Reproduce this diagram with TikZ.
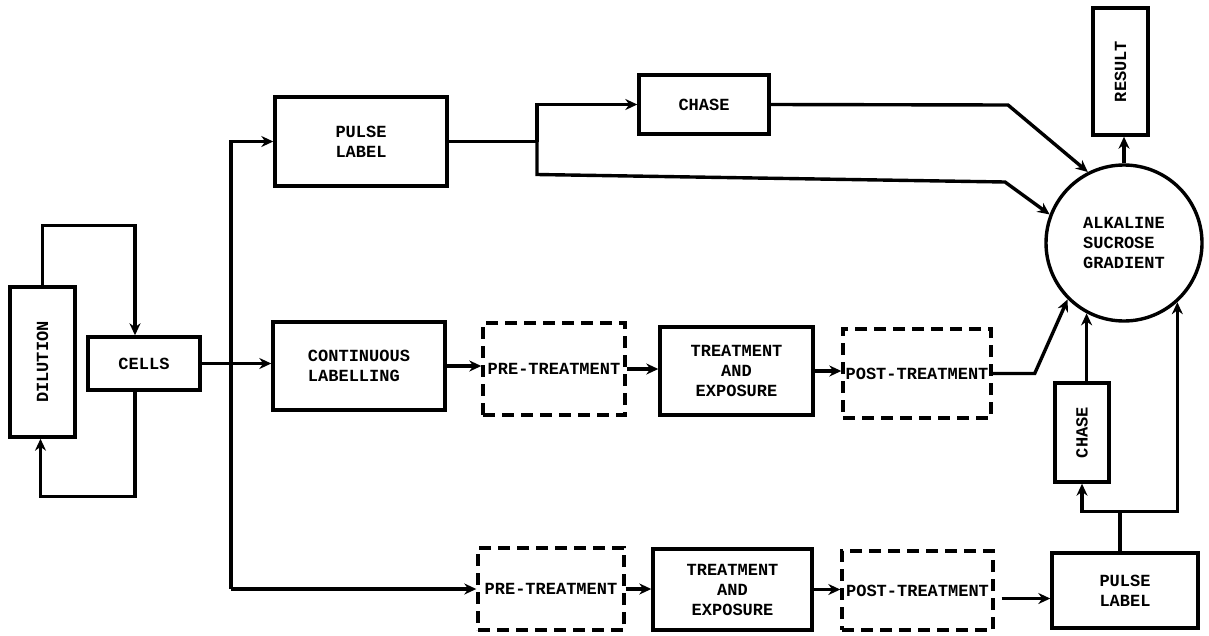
\documentclass[tikz,border=0pt]{standalone}
\usepackage{fontspec}
\setmainfont{Liberation Mono}
\usetikzlibrary{arrows.meta,calc}
\begin{document}
\begin{tikzpicture}[x=1pt,y=-1pt,
  every path/.style={line width=3.4pt},
  box/.style={draw,rectangle,inner sep=0pt,line width=3.4pt,font=\fontsize{17}{20}\selectfont\bfseries,align=center},
  dbox/.style={box,dash pattern=on 12pt off 7pt},
  circ/.style={draw,circle,inner sep=0pt,line width=3.4pt,minimum size=156pt,font=\fontsize{17}{20}\selectfont\bfseries,align=left},
  arr/.style={-{Stealth[length=12pt,width=11pt]}},
]
\useasboundingbox (0,0) rectangle (1209,635);
% nodes
\node[box,minimum width=65pt,minimum height=150pt] (dil) at (42.5,362) {\rotatebox{90}{DILUTION}};
\node[box,minimum width=112pt,minimum height=53pt] (cells) at (144,363.5) {CELLS};
\node[box,minimum width=172pt,minimum height=89pt] (pulse1) at (361,141.5) {PULSE\\LABEL};
\node[box,minimum width=130pt,minimum height=59pt] (chase1) at (704,104.5) {CHASE};
\node[box,minimum width=172pt,minimum height=88pt,align=left] (cont) at (359,366) {CONTINUOUS\\LABELLING};
\node[dbox,minimum width=142pt,minimum height=92pt] (pre1) at (554,369) {PRE-TREATMENT};
\node[box,minimum width=153pt,minimum height=88pt] (tae1) at (736.5,371) {TREATMENT\\AND\\EXPOSURE};
\node[dbox,minimum width=148pt,minimum height=89pt] (post1) at (917,373.5) {POST-TREATMENT};
\node[circ] (asg) at (1124,243) {ALKALINE\\SUCROSE\\GRADIENT};
\node[box,minimum width=55pt,minimum height=127pt] (result) at (1120.5,71.5) {\rotatebox{90}{RESULT}};
\node[box,minimum width=54pt,minimum height=99pt] (chase2) at (1082,432.5) {\rotatebox{90}{CHASE}};
\node[dbox,minimum width=146pt,minimum height=82pt] (pre2) at (551,589) {PRE-TREATMENT};
\node[box,minimum width=159pt,minimum height=81pt] (tae2) at (732.5,589.5) {TREATMENT\\AND\\EXPOSURE};
\node[dbox,minimum width=151pt,minimum height=79pt] (post2) at (917.5,590.5) {POST-TREATMENT};
\node[box,minimum width=146pt,minimum height=75pt] (pulse2) at (1125,590.5) {PULSE\\LABEL};
% dilution loop
\draw[arr] (dil.north) -- ++(0,-60) -| ([xshift=-9pt]cells.north);
\draw[arr] ([xshift=-9pt]cells.south) -- ++(0,105) -| ([xshift=-2pt]dil.south);
% trunk
\coordinate (tr) at (231,0);
\draw[arr] (cells.east) -- (cells.east -| cont.west);
\draw[arr] (tr |- pre2.west) -- (pre2.west);
\draw[arr] (tr |- pre2.west) -- (tr |- pulse1.west) -- (pulse1.west);
% top row
\coordinate (sp) at (537,0);
\draw (pulse1.east) -- (sp |- pulse1.east);
\draw[arr] (sp |- pulse1.east) |- (chase1.west);
\draw[arr] (sp |- pulse1.east) -- ++(0,33) -- (1005,182) -- (asg.159);
\draw[arr] (chase1.east) -- (1008,105) -- (asg.117);
% middle row
\draw[arr] (cont.east) -- (cont.east -| pre1.west);
\draw[arr] (pre1.east) -- (pre1.east -| tae1.west);
\draw[arr] (tae1.east) -- (tae1.east -| post1.west);
\draw[arr] (post1.east) -- ++(42,0) -- (asg.225);
% bottom row
\draw[arr] (pre2.east) -- (pre2.east -| tae2.west);
\draw[arr] (tae2.east) -- (tae2.east -| post2.west);
\draw[arr,shorten <=7pt] ([yshift=-8pt]post2.east) -- ([yshift=-8pt]post2.east -| pulse2.west);
\draw ([xshift=-5pt]pulse2.north) -- ++(0,-40) coordinate (br);
\draw[arr] (br) -| (chase2.south);
\draw[arr] (br) -| (asg.-48);
\draw[arr] (asg.-118 |- chase2.north) -- (asg.-118);
\draw[arr] (asg.north) -- (asg.north |- result.south);
\end{tikzpicture}
\end{document}
